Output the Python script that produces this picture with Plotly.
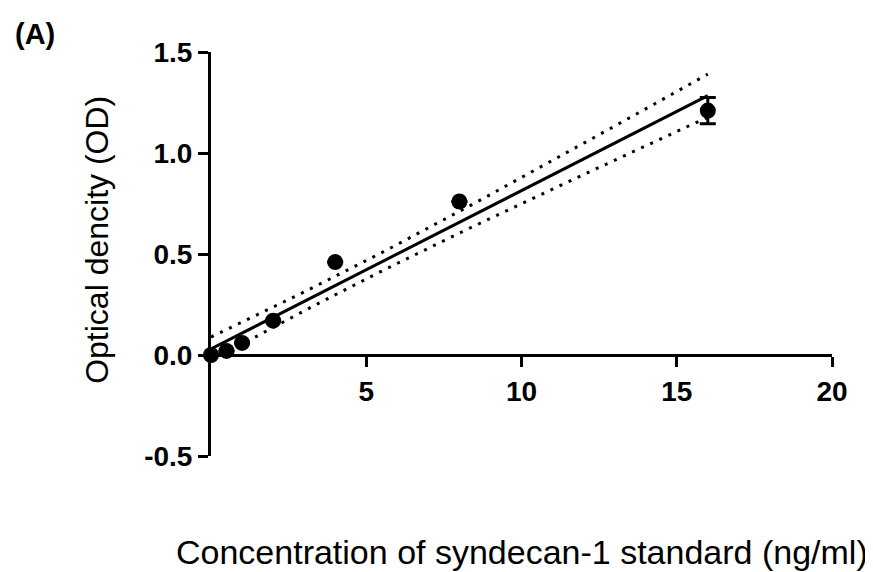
import numpy as np
import plotly.graph_objects as go

# Data
conc = [0, 0.5, 1, 2, 4, 8, 16]
od = [0.0, 0.02, 0.06, 0.17, 0.46, 0.76, 1.21]
od_err = [0.0, 0.0, 0.0, 0.0, 0.0, 0.0, 0.065]
n_replicates = 2

x_ticks = [5, 10, 15, 20]
y_ticks = [-0.5, 0.0, 0.5, 1.0, 1.5]
y_tick_text = ["-0.5", "0.0", "0.5", "1.0", "1.5"]

# Linear regression + 95% confidence band (computed from data)
x = np.array(conc, dtype=float)
y = np.array(od, dtype=float)
slope, intercept = np.polyfit(x, y, 1)
xf = np.linspace(x.min(), x.max(), 100)
yf = slope * xf + intercept
resid = y - (slope * x + intercept)
n = len(x) * n_replicates
s2 = n_replicates * np.sum(resid ** 2) / (n - 2)
sxx = n_replicates * np.sum((x - x.mean()) ** 2)
t_val = 2.179
half = t_val * np.sqrt(s2 * (1.0 / n + (xf - x.mean()) ** 2 / sxx))

fig = go.Figure()
fig.add_trace(go.Scatter(x=xf, y=yf + half, mode="lines",
                         line=dict(color="black", width=3, dash="3px,7px"),
                         hoverinfo="skip", showlegend=False, cliponaxis=False))
fig.add_trace(go.Scatter(x=xf, y=yf - half, mode="lines",
                         line=dict(color="black", width=3, dash="3px,7px"),
                         hoverinfo="skip", showlegend=False, cliponaxis=False))
fig.add_trace(go.Scatter(x=xf, y=yf, mode="lines",
                         line=dict(color="black", width=3),
                         showlegend=False, cliponaxis=False))
fig.add_trace(go.Scatter(x=conc, y=od, mode="markers",
                         marker=dict(color="black", size=16),
                         error_y=dict(type="data", array=od_err, visible=True,
                                      color="black", thickness=3, width=8),
                         showlegend=False, cliponaxis=False))

FONT = "Liberation Sans, Arial, sans-serif"
tick_font = dict(family=FONT, size=28, color="black")

fig.update_layout(
    width=865, height=564,
    margin=dict(l=203, r=41, t=44, b=116),
    paper_bgcolor="white", plot_bgcolor="white",
    font=dict(family=FONT, color="black"),
    xaxis=dict(range=[0, 20], tickvals=x_ticks, ticktext=[f"<b>{v}</b>" for v in x_ticks],
               showgrid=False, zeroline=False, showline=True, linecolor="black", linewidth=3,
               ticks="outside", ticklen=10, tickwidth=3, tickcolor="black",
               tickfont=tick_font, anchor="free", position=0.25),
    yaxis=dict(range=[-0.5, 1.5], domain=[0, 1], tickvals=y_ticks,
               ticktext=[f"<b>{t}</b>" for t in y_tick_text],
               showgrid=False, zeroline=False, showline=True, linecolor="black", linewidth=3,
               ticks="outside", ticklen=10, tickwidth=3, tickcolor="black",
               tickfont=tick_font),
    annotations=[
        dict(text="Concentration of syndecan-1 standard (ng/ml)", x=0.5, xref="paper",
             y=-0.238, yref="paper", showarrow=False, yanchor="middle",
             font=dict(size=34, family=FONT, color="black")),
        dict(text="Optical dencity (OD)", x=-0.1836, xref="paper", y=0.535, yref="paper",
             showarrow=False, textangle=-90, xanchor="center", yanchor="middle",
             font=dict(size=32, family=FONT, color="black")),
        dict(text="<b>(A)</b>", x=-0.319, xref="paper", y=1.0446, yref="paper",
             showarrow=False, xanchor="left", yanchor="middle",
             font=dict(size=29, family=FONT, color="black")),
    ],
)

fig.write_html("out.html")
